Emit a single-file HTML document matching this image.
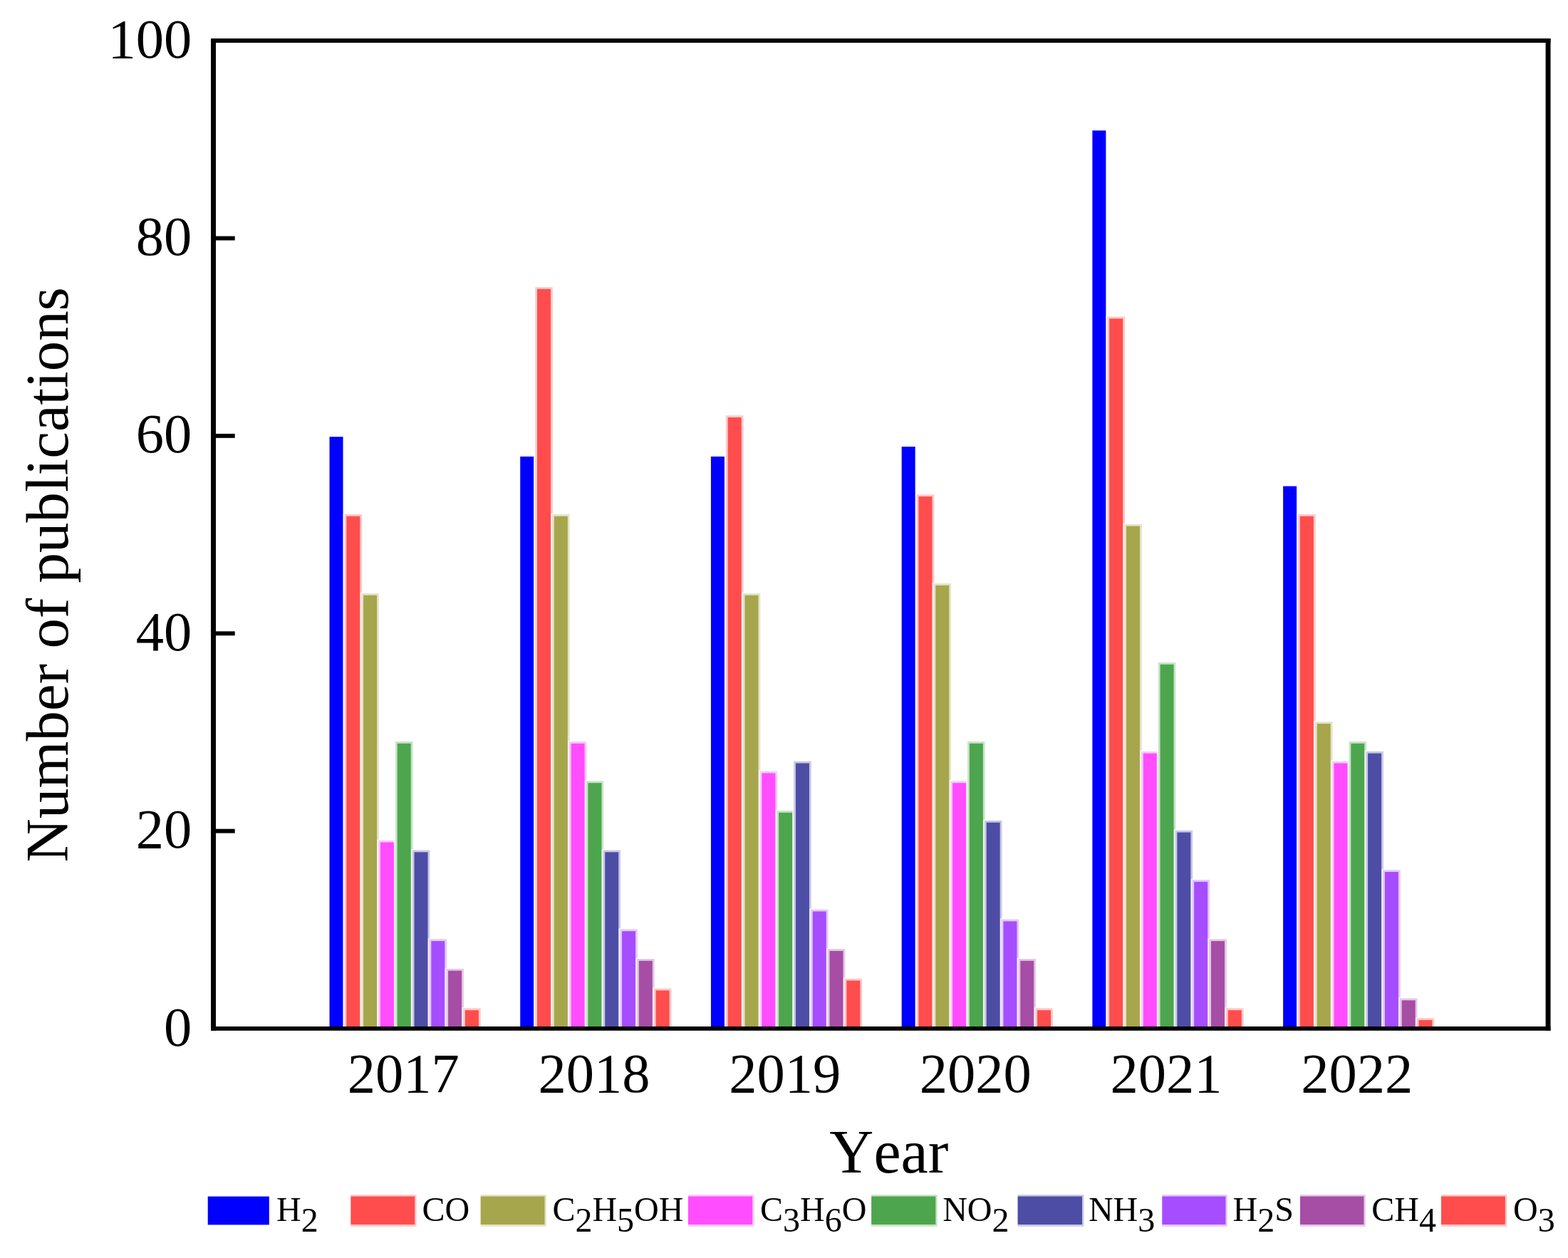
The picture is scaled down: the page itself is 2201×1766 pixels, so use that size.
<!DOCTYPE html>
<html lang="en"><head><meta charset="utf-8"><title>Number of publications per year</title>
<style>html,body{margin:0;padding:0;background:#fff;}svg{display:block;}text{font-family:"Liberation Serif",serif;fill:#000;font-kerning:none;}</style></head><body>
<svg width="2201" height="1766" viewBox="0 0 2201 1766">
<rect x="0" y="0" width="2201" height="1766" fill="#fff"/>
<g shape-rendering="auto">
<rect x="462.51" y="613.16" width="19.00" height="830.74" fill="#0000FF"/>
<rect x="481.81" y="720.71" width="28.00" height="723.19" fill="#fff" fill-opacity="0.75"/>
<rect x="483.51" y="721.91" width="24.60" height="721.99" fill="#FFC9C9"/>
<rect x="486.31" y="724.71" width="19.00" height="719.19" fill="#FF4D4D"/>
<rect x="505.61" y="831.66" width="28.00" height="612.24" fill="#fff" fill-opacity="0.75"/>
<rect x="507.31" y="832.86" width="24.60" height="611.04" fill="#E4E4C9"/>
<rect x="510.11" y="835.66" width="19.00" height="608.24" fill="#A6A64D"/>
<rect x="529.41" y="1178.39" width="28.00" height="265.51" fill="#fff" fill-opacity="0.75"/>
<rect x="531.11" y="1179.59" width="24.60" height="264.31" fill="#FFC9FF"/>
<rect x="533.91" y="1182.39" width="19.00" height="261.51" fill="#FF4DFF"/>
<rect x="553.21" y="1039.70" width="28.00" height="404.20" fill="#fff" fill-opacity="0.75"/>
<rect x="554.91" y="1040.90" width="24.60" height="403.00" fill="#C9E4C9"/>
<rect x="557.71" y="1043.70" width="19.00" height="400.20" fill="#4DA64D"/>
<rect x="577.01" y="1192.26" width="28.00" height="251.64" fill="#fff" fill-opacity="0.75"/>
<rect x="578.71" y="1193.46" width="24.60" height="250.44" fill="#C9C9E4"/>
<rect x="581.51" y="1196.26" width="19.00" height="247.64" fill="#4D4DA6"/>
<rect x="600.81" y="1317.08" width="28.00" height="126.82" fill="#fff" fill-opacity="0.75"/>
<rect x="602.51" y="1318.28" width="24.60" height="125.62" fill="#E4C9FF"/>
<rect x="605.31" y="1321.08" width="19.00" height="122.82" fill="#A64DFF"/>
<rect x="624.61" y="1358.69" width="28.00" height="85.21" fill="#fff" fill-opacity="0.75"/>
<rect x="626.31" y="1359.89" width="24.60" height="84.01" fill="#E4C9E4"/>
<rect x="629.11" y="1362.69" width="19.00" height="81.21" fill="#A64DA6"/>
<rect x="648.41" y="1414.16" width="28.00" height="29.74" fill="#fff" fill-opacity="0.75"/>
<rect x="650.11" y="1415.36" width="24.60" height="28.54" fill="#FFC9C9"/>
<rect x="652.91" y="1418.16" width="19.00" height="25.74" fill="#FF4D4D"/>
<rect x="730.23" y="640.90" width="19.00" height="803.00" fill="#0000FF"/>
<rect x="749.53" y="401.73" width="28.00" height="1042.17" fill="#fff" fill-opacity="0.75"/>
<rect x="751.23" y="402.93" width="24.60" height="1040.97" fill="#FFC9C9"/>
<rect x="754.03" y="405.73" width="19.00" height="1038.17" fill="#FF4D4D"/>
<rect x="773.33" y="720.71" width="28.00" height="723.19" fill="#fff" fill-opacity="0.75"/>
<rect x="775.03" y="721.91" width="24.60" height="721.99" fill="#E4E4C9"/>
<rect x="777.83" y="724.71" width="19.00" height="719.19" fill="#A6A64D"/>
<rect x="797.13" y="1039.70" width="28.00" height="404.20" fill="#fff" fill-opacity="0.75"/>
<rect x="798.83" y="1040.90" width="24.60" height="403.00" fill="#FFC9FF"/>
<rect x="801.63" y="1043.70" width="19.00" height="400.20" fill="#FF4DFF"/>
<rect x="820.93" y="1095.18" width="28.00" height="348.72" fill="#fff" fill-opacity="0.75"/>
<rect x="822.63" y="1096.38" width="24.60" height="347.52" fill="#C9E4C9"/>
<rect x="825.43" y="1099.18" width="19.00" height="344.72" fill="#4DA64D"/>
<rect x="844.73" y="1192.26" width="28.00" height="251.64" fill="#fff" fill-opacity="0.75"/>
<rect x="846.43" y="1193.46" width="24.60" height="250.44" fill="#C9C9E4"/>
<rect x="849.23" y="1196.26" width="19.00" height="247.64" fill="#4D4DA6"/>
<rect x="868.53" y="1303.21" width="28.00" height="140.69" fill="#fff" fill-opacity="0.75"/>
<rect x="870.23" y="1304.41" width="24.60" height="139.49" fill="#E4C9FF"/>
<rect x="873.03" y="1307.21" width="19.00" height="136.69" fill="#A64DFF"/>
<rect x="892.33" y="1344.82" width="28.00" height="99.08" fill="#fff" fill-opacity="0.75"/>
<rect x="894.03" y="1346.02" width="24.60" height="97.88" fill="#E4C9E4"/>
<rect x="896.83" y="1348.82" width="19.00" height="95.08" fill="#A64DA6"/>
<rect x="916.13" y="1386.42" width="28.00" height="57.48" fill="#fff" fill-opacity="0.75"/>
<rect x="917.83" y="1387.62" width="24.60" height="56.28" fill="#FFC9C9"/>
<rect x="920.63" y="1390.42" width="19.00" height="53.48" fill="#FF4D4D"/>
<rect x="997.94" y="640.90" width="19.00" height="803.00" fill="#0000FF"/>
<rect x="1017.24" y="582.02" width="28.00" height="861.88" fill="#fff" fill-opacity="0.75"/>
<rect x="1018.94" y="583.22" width="24.60" height="860.68" fill="#FFC9C9"/>
<rect x="1021.74" y="586.02" width="19.00" height="857.88" fill="#FF4D4D"/>
<rect x="1041.04" y="831.66" width="28.00" height="612.24" fill="#fff" fill-opacity="0.75"/>
<rect x="1042.74" y="832.86" width="24.60" height="611.04" fill="#E4E4C9"/>
<rect x="1045.54" y="835.66" width="19.00" height="608.24" fill="#A6A64D"/>
<rect x="1064.84" y="1081.31" width="28.00" height="362.59" fill="#fff" fill-opacity="0.75"/>
<rect x="1066.54" y="1082.51" width="24.60" height="361.39" fill="#FFC9FF"/>
<rect x="1069.34" y="1085.31" width="19.00" height="358.59" fill="#FF4DFF"/>
<rect x="1088.64" y="1136.78" width="28.00" height="307.12" fill="#fff" fill-opacity="0.75"/>
<rect x="1090.34" y="1137.98" width="24.60" height="305.92" fill="#C9E4C9"/>
<rect x="1093.14" y="1140.78" width="19.00" height="303.12" fill="#4DA64D"/>
<rect x="1112.44" y="1067.44" width="28.00" height="376.46" fill="#fff" fill-opacity="0.75"/>
<rect x="1114.14" y="1068.64" width="24.60" height="375.26" fill="#C9C9E4"/>
<rect x="1116.94" y="1071.44" width="19.00" height="372.46" fill="#4D4DA6"/>
<rect x="1136.24" y="1275.47" width="28.00" height="168.43" fill="#fff" fill-opacity="0.75"/>
<rect x="1137.94" y="1276.67" width="24.60" height="167.23" fill="#E4C9FF"/>
<rect x="1140.74" y="1279.47" width="19.00" height="164.43" fill="#A64DFF"/>
<rect x="1160.04" y="1330.95" width="28.00" height="112.95" fill="#fff" fill-opacity="0.75"/>
<rect x="1161.74" y="1332.15" width="24.60" height="111.75" fill="#E4C9E4"/>
<rect x="1164.54" y="1334.95" width="19.00" height="108.95" fill="#A64DA6"/>
<rect x="1183.84" y="1372.56" width="28.00" height="71.35" fill="#fff" fill-opacity="0.75"/>
<rect x="1185.54" y="1373.76" width="24.60" height="70.14" fill="#FFC9C9"/>
<rect x="1188.34" y="1376.56" width="19.00" height="67.35" fill="#FF4D4D"/>
<rect x="1265.66" y="627.03" width="19.00" height="816.87" fill="#0000FF"/>
<rect x="1284.96" y="692.97" width="28.00" height="750.93" fill="#fff" fill-opacity="0.75"/>
<rect x="1286.66" y="694.17" width="24.60" height="749.73" fill="#FFC9C9"/>
<rect x="1289.46" y="696.97" width="19.00" height="746.93" fill="#FF4D4D"/>
<rect x="1308.76" y="817.80" width="28.00" height="626.11" fill="#fff" fill-opacity="0.75"/>
<rect x="1310.46" y="819.00" width="24.60" height="624.90" fill="#E4E4C9"/>
<rect x="1313.26" y="821.80" width="19.00" height="622.11" fill="#A6A64D"/>
<rect x="1332.56" y="1095.18" width="28.00" height="348.72" fill="#fff" fill-opacity="0.75"/>
<rect x="1334.26" y="1096.38" width="24.60" height="347.52" fill="#FFC9FF"/>
<rect x="1337.06" y="1099.18" width="19.00" height="344.72" fill="#FF4DFF"/>
<rect x="1356.36" y="1039.70" width="28.00" height="404.20" fill="#fff" fill-opacity="0.75"/>
<rect x="1358.06" y="1040.90" width="24.60" height="403.00" fill="#C9E4C9"/>
<rect x="1360.86" y="1043.70" width="19.00" height="400.20" fill="#4DA64D"/>
<rect x="1380.16" y="1150.65" width="28.00" height="293.25" fill="#fff" fill-opacity="0.75"/>
<rect x="1381.86" y="1151.85" width="24.60" height="292.05" fill="#C9C9E4"/>
<rect x="1384.66" y="1154.65" width="19.00" height="289.25" fill="#4D4DA6"/>
<rect x="1403.96" y="1289.34" width="28.00" height="154.56" fill="#fff" fill-opacity="0.75"/>
<rect x="1405.66" y="1290.54" width="24.60" height="153.36" fill="#E4C9FF"/>
<rect x="1408.46" y="1293.34" width="19.00" height="150.56" fill="#A64DFF"/>
<rect x="1427.76" y="1344.82" width="28.00" height="99.08" fill="#fff" fill-opacity="0.75"/>
<rect x="1429.46" y="1346.02" width="24.60" height="97.88" fill="#E4C9E4"/>
<rect x="1432.26" y="1348.82" width="19.00" height="95.08" fill="#A64DA6"/>
<rect x="1451.56" y="1414.16" width="28.00" height="29.74" fill="#fff" fill-opacity="0.75"/>
<rect x="1453.26" y="1415.36" width="24.60" height="28.54" fill="#FFC9C9"/>
<rect x="1456.06" y="1418.16" width="19.00" height="25.74" fill="#FF4D4D"/>
<rect x="1533.37" y="183.22" width="19.00" height="1260.68" fill="#0000FF"/>
<rect x="1552.67" y="443.33" width="28.00" height="1000.57" fill="#fff" fill-opacity="0.75"/>
<rect x="1554.37" y="444.53" width="24.60" height="999.37" fill="#FFC9C9"/>
<rect x="1557.17" y="447.33" width="19.00" height="996.57" fill="#FF4D4D"/>
<rect x="1576.47" y="734.58" width="28.00" height="709.32" fill="#fff" fill-opacity="0.75"/>
<rect x="1578.17" y="735.78" width="24.60" height="708.12" fill="#E4E4C9"/>
<rect x="1580.97" y="738.58" width="19.00" height="705.32" fill="#A6A64D"/>
<rect x="1600.27" y="1053.57" width="28.00" height="390.33" fill="#fff" fill-opacity="0.75"/>
<rect x="1601.97" y="1054.77" width="24.60" height="389.13" fill="#FFC9FF"/>
<rect x="1604.77" y="1057.57" width="19.00" height="386.33" fill="#FF4DFF"/>
<rect x="1624.07" y="928.75" width="28.00" height="515.15" fill="#fff" fill-opacity="0.75"/>
<rect x="1625.77" y="929.95" width="24.60" height="513.95" fill="#C9E4C9"/>
<rect x="1628.57" y="932.75" width="19.00" height="511.15" fill="#4DA64D"/>
<rect x="1647.87" y="1164.52" width="28.00" height="279.38" fill="#fff" fill-opacity="0.75"/>
<rect x="1649.57" y="1165.72" width="24.60" height="278.18" fill="#C9C9E4"/>
<rect x="1652.37" y="1168.52" width="19.00" height="275.38" fill="#4D4DA6"/>
<rect x="1671.67" y="1233.87" width="28.00" height="210.04" fill="#fff" fill-opacity="0.75"/>
<rect x="1673.37" y="1235.07" width="24.60" height="208.84" fill="#E4C9FF"/>
<rect x="1676.17" y="1237.87" width="19.00" height="206.04" fill="#A64DFF"/>
<rect x="1695.47" y="1317.08" width="28.00" height="126.82" fill="#fff" fill-opacity="0.75"/>
<rect x="1697.17" y="1318.28" width="24.60" height="125.62" fill="#E4C9E4"/>
<rect x="1699.97" y="1321.08" width="19.00" height="122.82" fill="#A64DA6"/>
<rect x="1719.27" y="1414.16" width="28.00" height="29.74" fill="#fff" fill-opacity="0.75"/>
<rect x="1720.97" y="1415.36" width="24.60" height="28.54" fill="#FFC9C9"/>
<rect x="1723.77" y="1418.16" width="19.00" height="25.74" fill="#FF4D4D"/>
<rect x="1801.09" y="682.51" width="19.00" height="761.39" fill="#0000FF"/>
<rect x="1820.39" y="720.71" width="28.00" height="723.19" fill="#fff" fill-opacity="0.75"/>
<rect x="1822.09" y="721.91" width="24.60" height="721.99" fill="#FFC9C9"/>
<rect x="1824.89" y="724.71" width="19.00" height="719.19" fill="#FF4D4D"/>
<rect x="1844.19" y="1011.96" width="28.00" height="431.94" fill="#fff" fill-opacity="0.75"/>
<rect x="1845.89" y="1013.16" width="24.60" height="430.74" fill="#E4E4C9"/>
<rect x="1848.69" y="1015.96" width="19.00" height="427.94" fill="#A6A64D"/>
<rect x="1867.99" y="1067.44" width="28.00" height="376.46" fill="#fff" fill-opacity="0.75"/>
<rect x="1869.69" y="1068.64" width="24.60" height="375.26" fill="#FFC9FF"/>
<rect x="1872.49" y="1071.44" width="19.00" height="372.46" fill="#FF4DFF"/>
<rect x="1891.79" y="1039.70" width="28.00" height="404.20" fill="#fff" fill-opacity="0.75"/>
<rect x="1893.49" y="1040.90" width="24.60" height="403.00" fill="#C9E4C9"/>
<rect x="1896.29" y="1043.70" width="19.00" height="400.20" fill="#4DA64D"/>
<rect x="1915.59" y="1053.57" width="28.00" height="390.33" fill="#fff" fill-opacity="0.75"/>
<rect x="1917.29" y="1054.77" width="24.60" height="389.13" fill="#C9C9E4"/>
<rect x="1920.09" y="1057.57" width="19.00" height="386.33" fill="#4D4DA6"/>
<rect x="1939.39" y="1220.00" width="28.00" height="223.90" fill="#fff" fill-opacity="0.75"/>
<rect x="1941.09" y="1221.20" width="24.60" height="222.70" fill="#E4C9FF"/>
<rect x="1943.89" y="1224.00" width="19.00" height="219.90" fill="#A64DFF"/>
<rect x="1963.19" y="1400.29" width="28.00" height="43.61" fill="#fff" fill-opacity="0.75"/>
<rect x="1964.89" y="1401.49" width="24.60" height="42.41" fill="#E4C9E4"/>
<rect x="1967.69" y="1404.29" width="19.00" height="39.61" fill="#A64DA6"/>
<rect x="1986.99" y="1428.03" width="28.00" height="15.87" fill="#fff" fill-opacity="0.75"/>
<rect x="1988.69" y="1429.23" width="24.60" height="14.67" fill="#FFC9C9"/>
<rect x="1991.49" y="1432.03" width="19.00" height="11.87" fill="#FF4D4D"/>
</g>
<rect x="296" y="54" width="1880.5" height="6" fill="#000"/>
<rect x="296" y="1441" width="1880.5" height="5.8" fill="#000"/>
<rect x="296" y="54" width="7" height="1392.8" fill="#000"/>
<rect x="2169.6" y="54" width="6.9" height="1392.8" fill="#000"/>
<rect x="300" y="1163.67" width="29.7" height="5.9" fill="#000"/>
<rect x="300" y="886.29" width="29.7" height="5.9" fill="#000"/>
<rect x="300" y="608.91" width="29.7" height="5.9" fill="#000"/>
<rect x="300" y="331.53" width="29.7" height="5.9" fill="#000"/>
<text x="269.2" y="1467.50" font-size="78.5" text-anchor="end">0</text>
<text x="269.2" y="1190.12" font-size="78.5" text-anchor="end">20</text>
<text x="269.2" y="912.74" font-size="78.5" text-anchor="end">40</text>
<text x="269.2" y="635.36" font-size="78.5" text-anchor="end">60</text>
<text x="269.2" y="357.98" font-size="78.5" text-anchor="end">80</text>
<text x="269.2" y="80.60" font-size="78.5" text-anchor="end">100</text>
<text x="566.21" y="1533.1" font-size="78.5" text-anchor="middle">2017</text>
<text x="833.93" y="1533.1" font-size="78.5" text-anchor="middle">2018</text>
<text x="1101.64" y="1533.1" font-size="78.5" text-anchor="middle">2019</text>
<text x="1369.36" y="1533.1" font-size="78.5" text-anchor="middle">2020</text>
<text x="1637.07" y="1533.1" font-size="78.5" text-anchor="middle">2021</text>
<text x="1904.79" y="1533.1" font-size="78.5" text-anchor="middle">2022</text>
<text x="1247.8" y="1645.6" font-size="85.9" text-anchor="middle">Year</text>
<text transform="translate(94.9 1210.4) rotate(-90)" font-size="85">Number of publications</text>
<rect x="291.7" y="1679.6" width="86.1" height="39.8" fill="#0000FF"/>
<text x="388.0" y="1714.3" font-size="48"><tspan>H</tspan><tspan dy="14.4">2</tspan></text>
<rect x="492.4" y="1677.1" width="92.2" height="44.7" fill="#FFC9C9"/>
<rect x="492.4" y="1679.5" width="89.8" height="39.5" fill="#FF4D4D"/>
<text x="592.4" y="1714.3" font-size="48"><tspan>CO</tspan></text>
<rect x="674.7" y="1677.1" width="92.2" height="44.7" fill="#E4E4C9"/>
<rect x="674.7" y="1679.5" width="89.8" height="39.5" fill="#A6A64D"/>
<text x="775.4" y="1714.3" font-size="48"><tspan>C</tspan><tspan dy="14.4">2</tspan><tspan dy="-14.4">H</tspan><tspan dy="14.4">5</tspan><tspan dy="-14.4">OH</tspan></text>
<rect x="966.0" y="1677.1" width="92.6" height="44.7" fill="#FFC9FF"/>
<rect x="966.0" y="1679.5" width="90.2" height="39.5" fill="#FF4DFF"/>
<text x="1067.1" y="1714.3" font-size="48"><tspan>C</tspan><tspan dy="14.4">3</tspan><tspan dy="-14.4">H</tspan><tspan dy="14.4">6</tspan><tspan dy="-14.4">O</tspan></text>
<rect x="1223.2" y="1677.1" width="92.5" height="44.7" fill="#C9E4C9"/>
<rect x="1223.2" y="1679.5" width="90.1" height="39.5" fill="#4DA64D"/>
<text x="1323.2" y="1714.3" font-size="48"><tspan>NO</tspan><tspan dy="14.4">2</tspan></text>
<rect x="1428.6" y="1677.1" width="92.8" height="44.7" fill="#C9C9E4"/>
<rect x="1428.6" y="1679.5" width="90.4" height="39.5" fill="#4D4DA6"/>
<text x="1527.9" y="1714.3" font-size="48"><tspan>NH</tspan><tspan dy="14.4">3</tspan></text>
<rect x="1631.3" y="1677.1" width="91.5" height="44.7" fill="#E4C9FF"/>
<rect x="1631.3" y="1679.5" width="89.1" height="39.5" fill="#A64DFF"/>
<text x="1730.6" y="1714.3" font-size="48"><tspan>H</tspan><tspan dy="14.4">2</tspan><tspan dy="-14.4">S</tspan></text>
<rect x="1825.0" y="1677.1" width="91.8" height="44.7" fill="#E4C9E4"/>
<rect x="1825.0" y="1679.5" width="89.4" height="39.5" fill="#A64DA6"/>
<text x="1925.3" y="1714.3" font-size="48"><tspan>CH</tspan><tspan dy="14.4">4</tspan></text>
<rect x="2023.0" y="1677.1" width="92.2" height="44.7" fill="#FFC9C9"/>
<rect x="2023.0" y="1679.5" width="89.8" height="39.5" fill="#FF4D4D"/>
<text x="2124.0" y="1714.3" font-size="48"><tspan>O</tspan><tspan dy="14.4">3</tspan></text>
</svg></body></html>
